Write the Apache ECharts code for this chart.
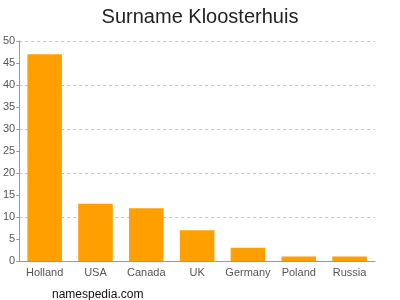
<!DOCTYPE html>
<html><head><meta charset="utf-8">
<script src="https://cdn.jsdelivr.net/npm/echarts@6/dist/echarts.min.js"></script>
<style>html,body{margin:0;padding:0;background:#fff}#c{width:400px;height:300px}</style>
</head><body><div id="c"></div>
<script>
const categories = ['Holland','USA','Canada','UK','Germany','Poland','Russia'];
const values = [47, 13, 12, 7, 3, 1, 1];
const yTicks = [0,5,10,15,20,25,30,35,40,45,50];
const chart = echarts.init(document.getElementById('c'), null, {renderer:'canvas'});
const yMin = yTicks[0], yMax = yTicks[yTicks.length-1];
chart.setOption({
  animation:false,
  backgroundColor:'#fff',
  title:[{text:'Surname Kloosterhuis', left:'center', top:2, textStyle:{fontFamily:'Liberation Sans, Arial', fontSize:20, fontWeight:'normal', color:'#222'}},
         {text:'namespedia.com', left:47, top:284, textStyle:{fontFamily:'Liberation Sans, Arial', fontSize:12, fontWeight:'normal', color:'#111'}}],
  grid:{left:18, right:25, top:41, bottom:39},
  xAxis:{type:'category', data:categories,
    axisLine:{lineStyle:{color:'#999'}},
    axisTick:{alignWithLabel:true, lineStyle:{color:'#999'}},
    axisLabel:{interval:0, color:'#555', fontSize:11, fontFamily:'Liberation Sans, Arial', margin:6}},
  yAxis:[{type:'value', min:yMin, max:yMax, interval:5,
    axisLine:{show:true, lineStyle:{color:'#999'}},
    axisTick:{show:true, length:3, lineStyle:{color:'#999'}},
    axisLabel:{color:'#555', fontSize:11, fontFamily:'Liberation Sans, Arial', margin:4},
    splitLine:{show:false}},
   {type:'value', min:yMin, max:yMax, interval:10, position:'left',
    axisLine:{show:false}, axisTick:{show:false}, axisLabel:{show:false},
    splitLine:{show:true, lineStyle:{color:'#c4c4c4', type:[3,3]}}}],
  series:[{type:'bar', data:values, barWidth:'68%', itemStyle:{color:'#FFA000'}, z:3}]
});
</script></body></html>
